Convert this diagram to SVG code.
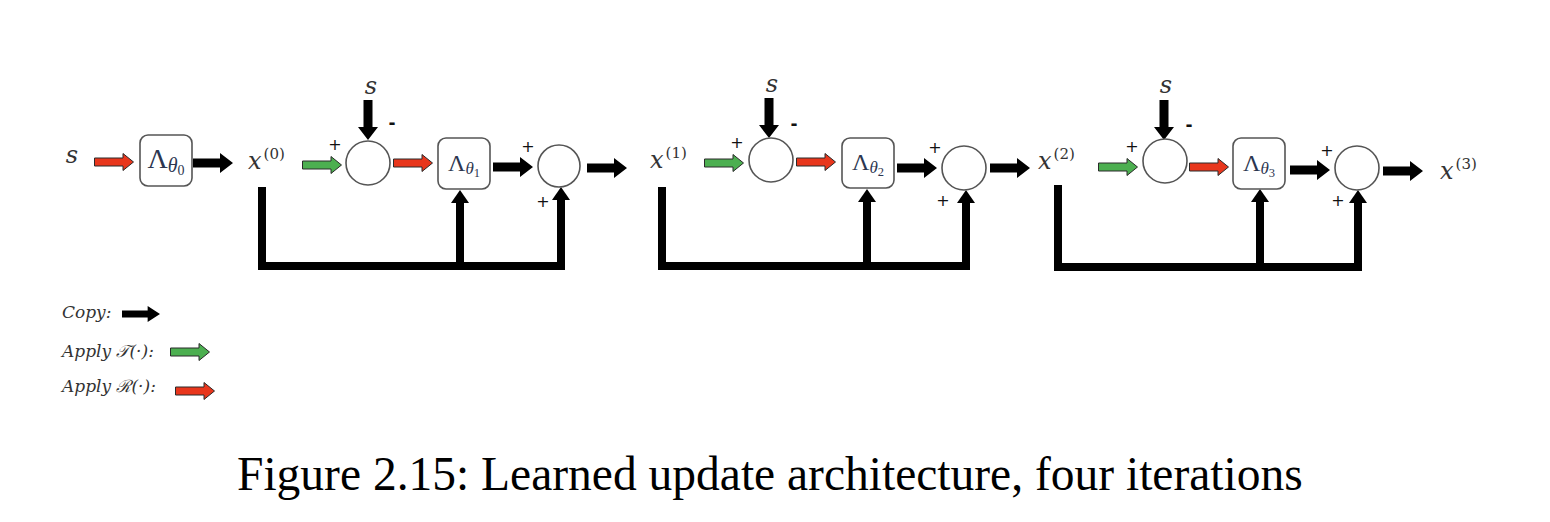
<svg xmlns="http://www.w3.org/2000/svg" xmlns:xlink="http://www.w3.org/1999/xlink" width="1550" height="522" viewBox="0 0 1550 522">
<style>
.bg{fill:#fff}
.box{fill:#fff;stroke:#555;stroke-width:1.6}
.sum{fill:#fff;stroke:#555;stroke-width:1.6}
.cp{fill:#000}
.tr{fill:#4caf50;stroke:#2a2a2a;stroke-width:1}
.rg{fill:#e8361c;stroke:#2a2a2a;stroke-width:1}
.fb{fill:none;stroke:#000;stroke-width:8;stroke-linejoin:miter;stroke-linecap:butt}
.hd{fill:#000}
.sgn{font-family:"DejaVu Sans",sans-serif;font-size:16px;fill:#111;text-anchor:middle}
.mns{font-family:"DejaVu Sans",sans-serif;font-size:17px;font-weight:bold;fill:#111;text-anchor:middle}
.var{font-family:"DejaVu Serif",serif;font-style:italic;font-size:24px;fill:#333}
.sup{font-family:"DejaVu Serif",serif;font-style:normal;font-size:15px}
.lam{font-family:"Liberation Serif",serif;fill:#2c3650;text-anchor:middle}
.th{font-style:italic}
.leg{font-family:"DejaVu Serif",serif;font-style:italic;font-size:17px;fill:#333}
.cap{font-family:"Liberation Serif","Times New Roman",serif;font-size:47.5px;fill:#000}
</style>
<defs>
<path id="ak" d="M0,-4.5 H27 V-10 L40,0 L27,10 V4.5 H0 Z"/>
<path id="ac" d="M0.5,-4 H29 V-8.5 L39.5,0 L29,8.5 V4 H0.5 Z"/>
</defs>
<rect class="bg" x="0" y="0" width="1550" height="522"/>

<g id="connectors">
  <!-- stage 0 -->
  <use href="#ac" class="rg" transform="translate(94,162)"/>
  <use href="#ak" class="cp" transform="translate(193,163)"/>
  <!-- stage 1 -->
  <use href="#ac" class="tr" transform="translate(302,165)"/>
  <use href="#ak" class="cp" transform="translate(368,100) rotate(90)"/>
  <use href="#ac" class="rg" transform="translate(393,163)"/>
  <use href="#ak" class="cp" transform="translate(493,167)"/>
  <use href="#ak" class="cp" transform="translate(587,168)"/>
  <path class="fb" d="M262,187 V266 H561 V199"/>
  <polygon class="hd" points="552,200 570,200 561,187"/>
  <path class="fb" d="M460,266 V202"/>
  <polygon class="hd" points="451,203 469,203 460,190"/>
  <!-- stage 2 -->
  <use href="#ac" class="tr" transform="translate(704,163)"/>
  <use href="#ak" class="cp" transform="translate(769,98) rotate(90)"/>
  <use href="#ac" class="rg" transform="translate(796,162)"/>
  <use href="#ak" class="cp" transform="translate(897,168)"/>
  <use href="#ak" class="cp" transform="translate(990,168)"/>
  <path class="fb" d="M662,187 V266 H966 V202"/>
  <polygon class="hd" points="957,203 975,203 966,190"/>
  <path class="fb" d="M867,266 V201"/>
  <polygon class="hd" points="858,202 876,202 867,189"/>
  <!-- stage 3 -->
  <use href="#ac" class="tr" transform="translate(1098,167)"/>
  <use href="#ak" class="cp" transform="translate(1164,100) rotate(90)"/>
  <use href="#ac" class="rg" transform="translate(1189,167)"/>
  <use href="#ak" class="cp" transform="translate(1290,170)"/>
  <use href="#ak" class="cp" transform="translate(1383,171)"/>
  <path class="fb" d="M1058,185 V267 H1358 V202"/>
  <polygon class="hd" points="1349,203 1367,203 1358,190"/>
  <path class="fb" d="M1260,267 V201"/>
  <polygon class="hd" points="1251,202 1269,202 1260,189"/>
</g>

<g id="s-in"><text class="var" x="72" y="163" text-anchor="middle">s</text></g>
<g id="lambda0">
  <rect class="box" x="140" y="135" width="52" height="51" rx="8"/>
  <text class="lam" x="166" y="168" font-size="28">Λ<tspan class="th" font-size="20" dy="4">θ</tspan><tspan font-size="14" dy="3">0</tspan></text>
</g>
<g id="x0"><text class="var" x="248" y="169">x<tspan class="sup" dx="2" dy="-10">(0)</tspan></text></g>

<g id="stage1">
  <text class="sgn" x="335" y="150">+</text>
  <text class="var" x="371" y="94" text-anchor="middle">s</text>
  <text class="mns" x="392" y="129">-</text>
  <circle class="sum" cx="368" cy="163" r="22"/>
  <rect class="box" x="438" y="138" width="52" height="51" rx="8"/>
  <text class="lam" x="464" y="171" font-size="24">Λ<tspan class="th" font-size="17" dy="3">θ</tspan><tspan font-size="12.5" dy="3">1</tspan></text>
  <text class="sgn" x="528" y="152">+</text>
  <circle class="sum" cx="559" cy="166" r="21"/>
  <text class="sgn" x="543" y="207">+</text>
</g>
<g id="x1"><text class="var" x="650" y="168">x<tspan class="sup" dx="2" dy="-10">(1)</tspan></text></g>

<g id="stage2">
  <text class="sgn" x="737" y="148">+</text>
  <text class="var" x="772" y="92" text-anchor="middle">s</text>
  <text class="mns" x="794" y="130">-</text>
  <circle class="sum" cx="771" cy="160" r="22"/>
  <rect class="box" x="842" y="138" width="52" height="50" rx="8"/>
  <text class="lam" x="868" y="170" font-size="24">Λ<tspan class="th" font-size="17" dy="3">θ</tspan><tspan font-size="12.5" dy="3">2</tspan></text>
  <text class="sgn" x="935" y="153">+</text>
  <circle class="sum" cx="964" cy="168" r="22"/>
  <text class="sgn" x="943" y="206">+</text>
</g>
<g id="x2"><text class="var" x="1038" y="169">x<tspan class="sup" dx="2" dy="-10">(2)</tspan></text></g>

<g id="stage3">
  <text class="sgn" x="1132" y="152">+</text>
  <text class="var" x="1166" y="93" text-anchor="middle">s</text>
  <text class="mns" x="1189" y="131">-</text>
  <circle class="sum" cx="1165" cy="161" r="22"/>
  <rect class="box" x="1233" y="138" width="52" height="51" rx="8"/>
  <text class="lam" x="1259" y="171" font-size="24">Λ<tspan class="th" font-size="17" dy="3">θ</tspan><tspan font-size="12.5" dy="3">3</tspan></text>
  <text class="sgn" x="1327" y="156">+</text>
  <circle class="sum" cx="1357" cy="168" r="22"/>
  <text class="sgn" x="1338" y="206">+</text>
</g>
<g id="x3"><text class="var" x="1440" y="179">x<tspan class="sup" dx="2" dy="-10">(3)</tspan></text></g>

<g id="legend">
  <text class="leg" x="62" y="318">Copy:</text>
  <use href="#ak" class="cp" transform="translate(122,314) scale(0.95,0.8)"/>
  <text class="leg" x="62" y="357">Apply 𝒯(·):</text>
  <use href="#ac" class="tr" transform="translate(170,352)"/>
  <text class="leg" x="62" y="392">Apply ℛ(·):</text>
  <use href="#ac" class="rg" transform="translate(175,391)"/>
</g>

<g id="caption"><text class="cap" x="237" y="490">Figure 2.15: Learned update architecture, four iterations</text></g>
</svg>
